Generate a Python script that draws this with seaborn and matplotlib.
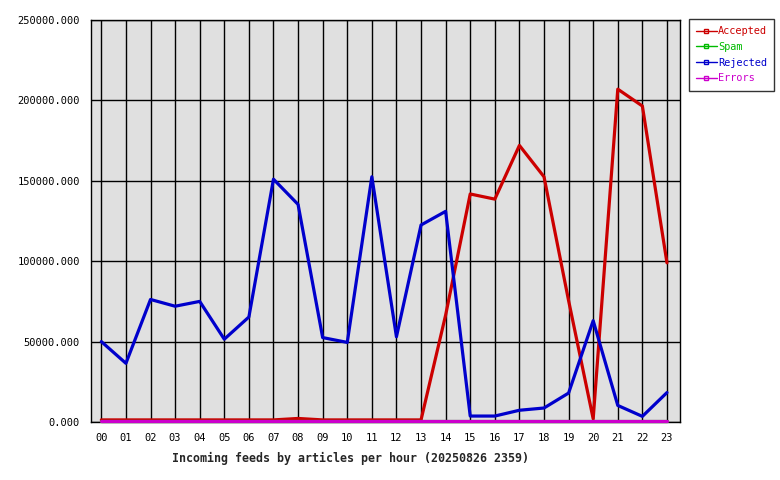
import matplotlib
matplotlib.use("Agg")
import matplotlib.pyplot as plt
from matplotlib.lines import Line2D
import seaborn as sns
import pandas as pd

hours = ["00","01","02","03","04","05","06","07","08","09","10","11",
         "12","13","14","15","16","17","18","19","20","21","22","23"]
accepted = [1300, 1300, 1300, 1300, 1300, 1300, 1300, 1300, 2200, 1300, 1300, 1300,
            1300, 1300, 66500, 141800, 138600, 172000, 152500, 75500, 2000, 207000, 196500, 99000]
spam = [700]*24
rejected = [50000, 36500, 76200, 72000, 75000, 51500, 65300, 151000, 135300, 52500, 49500, 152500,
            53000, 122500, 131000, 3700, 3700, 7300, 8700, 18000, 63000, 10300, 3500, 18300]
errors = [700]*24
series_names = ["Accepted", "Spam", "Rejected", "Errors"]
colors = ["#cc0000", "#00bb00", "#0000cc", "#cc00cc"]
title = "Incoming feeds by articles per hour (20250826 2359)"

rows = []
for name, vals in zip(series_names, [accepted, spam, rejected, errors]):
    for i, v in enumerate(vals):
        rows.append({"hour": i, "value": v, "series": name})
df = pd.DataFrame(rows)

sns.set_style("white")
plt.rcParams["font.family"] = ["DejaVu Sans Mono"]

fig = plt.figure(figsize=(7.8, 4.8), dpi=100)
ax = fig.add_axes([91/780, 1-422/480, (680-91)/780, (422-20)/480])
ax.set_facecolor("#e0e0e0")

sns.lineplot(data=df, x="hour", y="value", hue="series", hue_order=series_names,
             palette=colors, linewidth=2.3, ax=ax, legend=False, zorder=3)
for ln in ax.get_lines():
    ln.set_clip_on(False)

ax.set_xlim(-0.42, 23.53)
ax.set_ylim(0, 250000)
ax.set_xticks(range(24))
ax.set_xticklabels(hours)
yt = [0, 50000, 100000, 150000, 200000, 250000]
ax.set_yticks(yt)
ax.set_yticklabels([f"{v:.3f}" for v in yt])
ax.tick_params(axis="both", direction="out", length=5, width=1, colors="black",
               labelsize=7.5, pad=3)
ax.grid(True, color="black", linewidth=1)
ax.set_axisbelow(True)
for s in ax.spines.values():
    s.set_color("black")
    s.set_linewidth(1)
    s.set_zorder(2)
ax.set_xlabel(title, fontsize=8.4, fontweight="bold", labelpad=4)
ax.xaxis.set_label_coords(0.44, -0.075)
ax.set_ylabel("")

handles = [Line2D([0], [0], color=c, linewidth=1, marker="s", markersize=3,
                  markerfacecolor="none", markeredgecolor=c) for c in colors]
leg = ax.legend(handles, series_names, loc="upper left", bbox_to_anchor=(1.015, 1.002),
                fontsize=7.4, frameon=True, fancybox=False, edgecolor="black",
                handlelength=2.0, handletextpad=0.15, borderpad=0.7, labelspacing=0.55,
                borderaxespad=0)
leg.get_frame().set_linewidth(1)
for t, c in zip(leg.get_texts(), colors):
    t.set_color(c)

fig.savefig("out.png", dpi=100, facecolor="white")
